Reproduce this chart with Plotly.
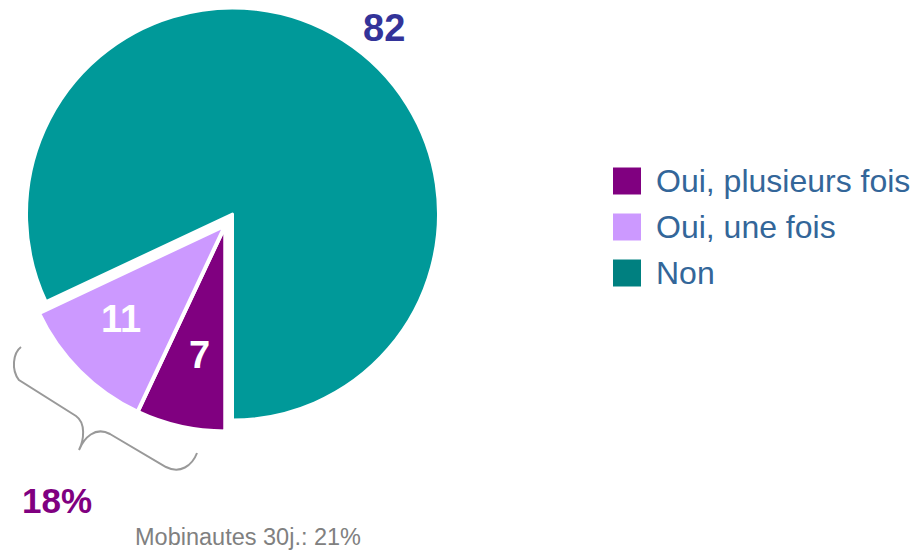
import math
import plotly.graph_objects as go

# ---- data ----
labels = ["Oui, plusieurs fois", "Oui, une fois", "Non"]
values = [7, 11, 82]
pie_colors = ["#800080", "#cc99ff", "#009999"]
legend_colors = ["#800080", "#cc99ff", "#008080"]
label_colors = ["white", "white", "#333399"]
exploded = [True, True, False]
total_label = "18%"
note_label = "Mobinautes 30j.: 21%"

W, H = 913, 551
F = "Liberation Sans, Arial, sans-serif"
CLEAR = "rgba(0,0,0,0)"

# pie geometry (pixels)
CX, CY = 232.5, 214.0
R = 206.0
ROT = 180.0
EXPLODE = 13.5  # px, group offset of the "Oui" slices
lab_rfrac = [0.64, 0.68, 1.165]
lab_dang = [-1.5, 3.0, 6.8]


def px(x):
    return x / W


def py(y):
    return 1 - y / H


total = sum(values)
# group mid-angle of the exploded slices
grp = []
cum = 0.0
for v, e in zip(values, exploded):
    if e:
        grp.append((cum, cum + v))
    cum += v
g_mid = ROT + (grp[0][0] + grp[-1][1]) / 2 / total * 360
ga = math.radians(g_mid)
DX, DY = EXPLODE * math.sin(ga), -EXPLODE * math.cos(ga)


def dom(cx, cy):
    return dict(x=[px(cx - R), px(cx + R)], y=[py(cy + R), py(cy - R)])


common = dict(labels=labels, values=values, sort=False, direction="clockwise",
              rotation=ROT, textinfo="none", showlegend=False, hoverinfo="label+value")

# base pie: non-exploded slices
fig = go.Figure(go.Pie(
    marker=dict(colors=[CLEAR if e else c for c, e in zip(pie_colors, exploded)],
                line=dict(color="white", width=[0 if e else 3 for e in exploded])),
    domain=dom(CX, CY), **common))
# exploded slices, shifted together
fig.add_trace(go.Pie(
    marker=dict(colors=[c if e else CLEAR for c, e in zip(pie_colors, exploded)],
                line=dict(color="white", width=[4 if e else 0 for e in exploded])),
    domain=dom(CX + DX, CY + DY), **common))

shapes = []
annotations = []

# slice value labels, positioned from the data (mid-angle of each slice)
cum = 0.0
for i, v in enumerate(values):
    mid = ROT + (cum + v / 2) / total * 360 + lab_dang[i]
    cum += v
    a = math.radians(mid)
    rr = R * lab_rfrac[i]
    ox, oy = (CX + DX, CY + DY) if exploded[i] else (CX, CY)
    lx = ox + rr * math.sin(a)
    ly = oy - rr * math.cos(a)
    annotations.append(dict(text=f"<b>{v}</b>", xref="paper", yref="paper",
                            x=px(lx), y=py(ly), xanchor="center", yanchor="middle",
                            showarrow=False,
                            font=dict(family=F, size=38, color=label_colors[i])))

# custom legend
for i, (lab, col) in enumerate(zip(labels, legend_colors)):
    yc = 181 + i * 46
    shapes.append(dict(type="rect", xref="paper", yref="paper",
                       x0=px(613), x1=px(641), y0=py(yc - 13.5), y1=py(yc + 13.5),
                       fillcolor=col, line=dict(width=0)))
    annotations.append(dict(text=lab, xref="paper", yref="paper", x=px(654), y=py(yc),
                            xanchor="left", yanchor="middle", showarrow=False,
                            font=dict(family=F, size=32, color="#336699")))

# brace
pts = "M 21,347 C 13,353 11,370 19,380 L 76,416 C 86,423 84,440 79,450 C 84,438 95,426 110,434 L 166,467 C 180,474 192,466 197,453"
out = []
for t in pts.split():
    if "," in t:
        a, b = t.split(",")
        out.append(f"{px(float(a)):.5f},{py(float(b)):.5f}")
    else:
        out.append(t)
shapes.append(dict(type="path", xref="paper", yref="paper", path=" ".join(out),
                   line=dict(color="#999999", width=2)))

annotations.append(dict(text=f"<b>{total_label}</b>", xref="paper", yref="paper",
                        x=px(57), y=py(500), xanchor="center", yanchor="middle",
                        showarrow=False, font=dict(family=F, size=35, color="#800080")))
annotations.append(dict(text=note_label, xref="paper", yref="paper",
                        x=px(247.5), y=py(537), xanchor="center", yanchor="middle",
                        showarrow=False, font=dict(family=F, size=23.5, color="#808080")))

fig.update_layout(
    width=W, height=H,
    margin=dict(l=0, r=0, t=0, b=0),
    paper_bgcolor="white", plot_bgcolor="white",
    shapes=shapes, annotations=annotations,
    showlegend=False,
)

fig.write_html("out.html", config={"displayModeBar": False},
               post_script="document.body.style.margin='0';")
